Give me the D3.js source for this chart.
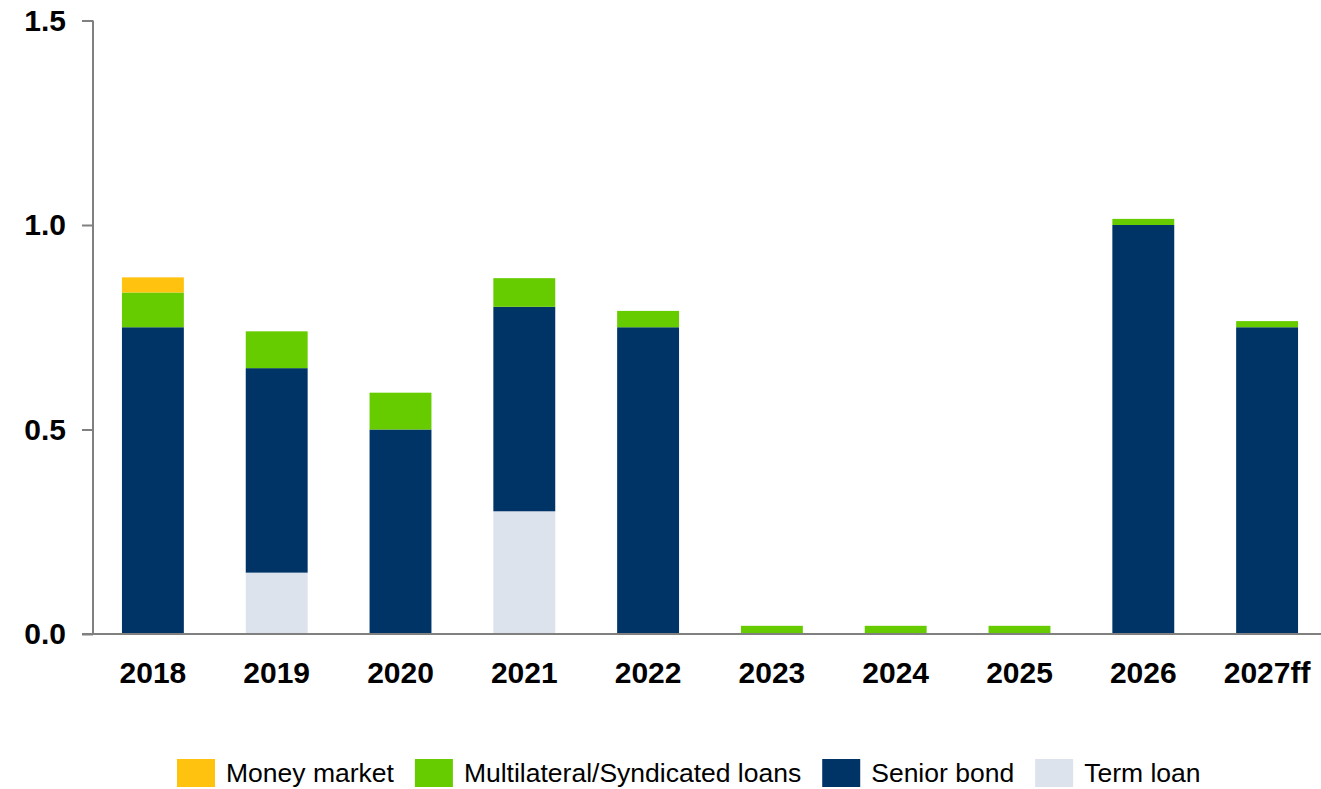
<!DOCTYPE html>
<html lang="en">
<head>
    <meta charset="UTF-8">
    <script src="https://d3js.org/d3.v7.min.js"></script>
    <title>Maturity profile</title>
    <style>
        body { margin: 0; background: #fff; }
        text { font-family: "Liberation Sans", Arial, sans-serif; }
    </style>
</head>
<body>
    <div id="chart"></div>
    <script>
        // data
        const years = ["2018", "2019", "2020", "2021", "2022", "2023", "2024", "2025", "2026", "2027ff"];
        const termLoan = [0, 0.15, 0, 0.30, 0, 0, 0, 0, 0, 0];
        const seniorBond = [0.75, 0.50, 0.50, 0.50, 0.75, 0, 0, 0, 1.00, 0.75];
        const multiLoans = [0.085, 0.09, 0.09, 0.07, 0.04, 0.02, 0.02, 0.02, 0.015, 0.015];
        const moneyMarket = [0.037, 0, 0, 0, 0, 0, 0, 0, 0, 0];
        const yTicks = [0, 0.5, 1.0, 1.5];

        // stacking order bottom -> top
        const series = [
            { key: "term", name: "Term loan", color: "#DDE3ED", values: termLoan },
            { key: "senior", name: "Senior bond", color: "#003366", values: seniorBond },
            { key: "multi", name: "Multilateral/Syndicated loans", color: "#66CC00", values: multiLoans },
            { key: "money", name: "Money market", color: "#FFC20E", values: moneyMarket }
        ];
        const legendOrder = ["money", "multi", "senior", "term"];

        const width = 1321, height = 789;
        const svg = d3.select("#chart").append("svg")
            .attr("width", width)
            .attr("height", height);

        const x = d3.scaleBand()
            .domain(years)
            .range([91, 1329])
            .paddingInner(0.5)
            .paddingOuter(0.25);

        const y = d3.scaleLinear()
            .domain([0, 1.5])
            .range([634, 20.5]);

        const rows = years.map((yr, i) => {
            const r = { year: yr };
            series.forEach(s => r[s.key] = s.values[i]);
            return r;
        });
        const stack = d3.stack().keys(series.map(s => s.key))(rows);

        svg.append("g")
            .selectAll("g")
            .data(stack)
            .join("g")
            .attr("fill", d => series.find(s => s.key === d.key).color)
            .selectAll("rect")
            .data(d => d)
            .join("rect")
            .attr("x", d => x(d.data.year))
            .attr("width", x.bandwidth())
            .attr("y", d => y(d[1]))
            .attr("height", d => y(d[0]) - y(d[1]));

        // y axis
        const yAxis = svg.append("g")
            .attr("transform", "translate(93,0)")
            .call(d3.axisLeft(y).tickValues(yTicks).tickFormat(d3.format(".1f")).tickSize(11).tickPadding(16));
        yAxis.select(".domain").attr("stroke", "#808080").attr("stroke-width", 2)
            .attr("d", `M0,${y(1.5)}V${y(0)}`);
        yAxis.selectAll(".tick line").attr("stroke", "#808080").attr("stroke-width", 2);
        yAxis.selectAll(".tick text")
            .attr("fill", "#000")
            .style("font-size", "30px")
            .style("font-weight", "bold");

        // x baseline
        svg.append("line")
            .attr("x1", 82).attr("x2", width)
            .attr("y1", y(0)).attr("y2", y(0))
            .attr("stroke", "#808080").attr("stroke-width", 2);

        // x labels
        svg.append("g")
            .selectAll("text")
            .data(years)
            .join("text")
            .attr("x", d => x(d) + x.bandwidth() / 2)
            .attr("y", 683)
            .attr("text-anchor", "middle")
            .style("font-size", "30px")
            .style("font-weight", "bold")
            .text(d => d);

        // legend
        const legend = svg.append("g");
        let lx = 177;
        legendOrder.forEach(k => {
            const s = series.find(d => d.key === k);
            legend.append("rect")
                .attr("x", lx).attr("y", 759)
                .attr("width", 38).attr("height", 28)
                .attr("fill", s.color);
            const t = legend.append("text")
                .attr("x", lx + 49).attr("y", 782)
                .style("font-size", "26.5px")
                .text(s.name);
            lx += 49 + t.node().getComputedTextLength() + 21;
        });
    </script>
</body>
</html>
